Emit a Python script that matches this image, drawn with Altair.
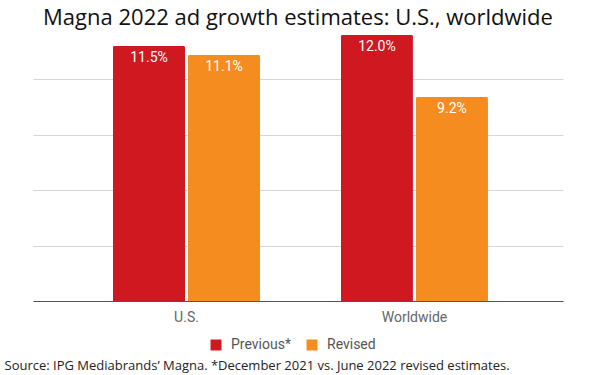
import altair as alt
import pandas as pd

regions = ["U.S.", "Worldwide"]
series = ["Previous*", "Revised"]
previous = [11.5, 12.0]
revised = [11.1, 9.2]
colors = ["#CF1820", "#F48C20"]

title_text = "Magna 2022 ad growth estimates: U.S., worldwide"
source_text = "Source: IPG Mediabrands\u2019 Magna. *December 2021 vs. June 2022 revised estimates."

rows = []
for i, r in enumerate(regions):
    rows.append({"region": r, "series": series[0], "value": previous[i], "label": f"{previous[i]:.1f}%"})
    rows.append({"region": r, "series": series[1], "value": revised[i], "label": f"{revised[i]:.1f}%"})
df = pd.DataFrame(rows)

x_enc = alt.X(
    "region:N",
    sort=regions,
    scale=alt.Scale(paddingInner=0.355, paddingOuter=0.34, align=0.516),
    axis=alt.Axis(
        title=source_text,
        titleX=-29,
        titleY=68,
        titleAlign="left",
        titleBaseline="alphabetic",
        titleFont="Open Sans",
        titleFontSize=13,
        titleFontWeight="normal",
        titleColor="#222222",
        labelFont="Roboto",
        labelFontSize=14,
        labelColor="#666666",
        labelPadding=9,
        labelAngle=0,
        ticks=False,
        domainColor="#555555",
        domainWidth=1,
        grid=False,
    ),
)
xo_enc = alt.XOffset("series:N", sort=series, scale=alt.Scale(paddingInner=0.04))
y_enc = alt.Y(
    "value:Q",
    scale=alt.Scale(domain=[0, 12], nice=False, zero=True),
    axis=alt.Axis(
        title=None,
        labels=False,
        ticks=False,
        domain=False,
        values=[0, 2.5, 5, 7.5, 10],
        gridColor="#D6D6D6",
        gridWidth=1,
    ),
)

base = alt.Chart(df).encode(x=x_enc, xOffset=xo_enc, y=y_enc)

bars = base.mark_bar(cornerRadiusTopLeft=1.5, cornerRadiusTopRight=1.5).encode(
    color=alt.Color(
        "series:N",
        sort=series,
        scale=alt.Scale(domain=series, range=colors),
        legend=alt.Legend(
            title=None,
            orient="none",
            direction="horizontal",
            legendX=176,
            legendY=303,
            symbolType="square",
            symbolSize=120,
            symbolStrokeWidth=0,
            labelFont="Roboto",
            labelFontSize=14,
            labelColor="#555555",
            labelOffset=8,
            columnPadding=14,
            padding=0,
        ),
    )
)

labels = base.mark_text(
    color="white", font="Roboto", fontSize=14, baseline="alphabetic", dy=16
).encode(text="label:N")

chart = (
    alt.layer(bars, labels)
    .properties(
        width=530,
        height=266,
        view=alt.ViewBackground(strokeWidth=0, stroke="transparent"),
        title=alt.TitleParams(
            text=title_text,
            font="Open Sans",
            fontSize=22,
            fontWeight="normal",
            color="#111111",
            anchor="middle",
            offset=5,
        ),
        autosize=alt.AutoSizeParams(type="none"),
        padding={"left": 33, "top": 35, "right": 37, "bottom": 74},
    )
    .configure_view(strokeWidth=0, stroke="transparent")
    .configure_axisX(grid=False)
    .configure(background="white")
)

chart.save("out.html", embed_options={"renderer": "svg", "actions": False})
